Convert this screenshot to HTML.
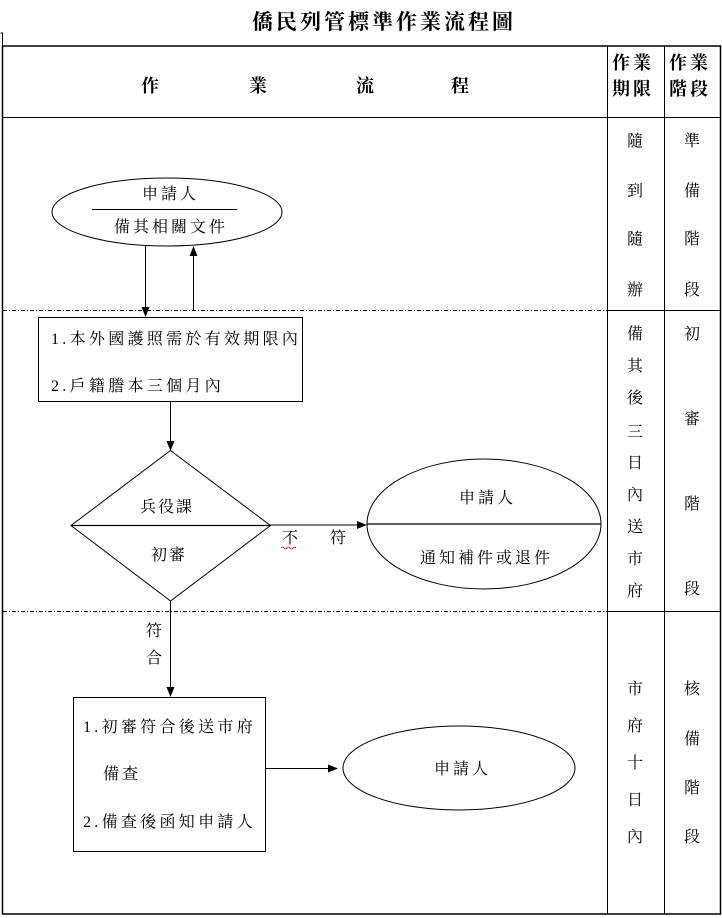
<!DOCTYPE html>
<html><head><meta charset="utf-8">
<style>
html,body{margin:0;padding:0;background:#fff;}
svg{display:block;}
text{font-family:"Liberation Serif","Noto Serif CJK SC","Noto Sans CJK TC",serif;fill:#000;}
</style></head>
<body>
<svg width="722" height="918" viewBox="0 0 722 918" xmlns="http://www.w3.org/2000/svg">
<defs>
<marker id="ah" markerWidth="10" markerHeight="8" refX="9" refY="4" orient="auto" markerUnits="userSpaceOnUse">
<path d="M0,0 L10,4 L0,8 Z" fill="#000"/></marker>
</defs>
<text x="252" y="29" font-size="21" font-weight="bold" letter-spacing="3">僑民列管標準作業流程圖</text>
<path d="M0.5,33 H2.5 V46" fill="none" stroke="#000" stroke-width="1"/>
<rect x="2.5" y="46" width="718" height="868" fill="none" stroke="#000" stroke-width="1.5"/>
<line x1="607.5" y1="46" x2="607.5" y2="914" stroke="#000" stroke-width="1"/>
<line x1="664.5" y1="46" x2="664.5" y2="914" stroke="#000" stroke-width="1"/>
<line x1="2" y1="117.5" x2="721" y2="117.5" stroke="#000" stroke-width="1"/>
<line x1="3" y1="310.5" x2="607" y2="310.5" stroke="#000" stroke-width="1" stroke-dasharray="4,2,1,2"/>
<line x1="607" y1="310.5" x2="721" y2="310.5" stroke="#000" stroke-width="1"/>
<line x1="3" y1="611.5" x2="607" y2="611.5" stroke="#000" stroke-width="1" stroke-dasharray="4,2,1,2"/>
<line x1="607" y1="611.5" x2="721" y2="611.5" stroke="#000" stroke-width="1"/>
<g font-size="18" font-weight="bold" text-anchor="middle">
<text x="150" y="92">作</text><text x="258" y="92">業</text><text x="365" y="92">流</text><text x="460" y="92">程</text>
</g>
<g font-size="18" font-weight="bold">
<text x="612" y="69" letter-spacing="3">作業</text><text x="612" y="95" letter-spacing="3">期限</text>
<text x="669" y="69" letter-spacing="3">作業</text><text x="669" y="95" letter-spacing="3">階段</text>
</g>
<g font-size="16" text-anchor="middle">
<text x="635" y="146">隨</text><text x="635" y="196">到</text><text x="635" y="244">隨</text><text x="635" y="295">辦</text>
<text x="692" y="146">準</text><text x="692" y="196">備</text><text x="692" y="244">階</text><text x="692" y="295">段</text>
<text x="635" y="339">備</text><text x="635" y="371">其</text><text x="635" y="403">後</text><text x="635" y="437">三</text><text x="635" y="468">日</text><text x="635" y="500">內</text><text x="635" y="532">送</text><text x="635" y="564">市</text><text x="635" y="596">府</text>
<text x="692" y="339">初</text><text x="692" y="424">審</text><text x="692" y="509">階</text><text x="692" y="594">段</text>
<text x="635" y="694">市</text><text x="635" y="731">府</text><text x="635" y="768">十</text><text x="635" y="805">日</text><text x="635" y="842">內</text>
<text x="692" y="694">核</text><text x="692" y="744">備</text><text x="692" y="793">階</text><text x="692" y="842">段</text>
</g>
<ellipse cx="167" cy="212" rx="115" ry="34" fill="none" stroke="#000" stroke-width="1"/>
<line x1="92" y1="209.5" x2="237" y2="209.5" stroke="#000" stroke-width="1"/>
<g font-size="16">
<text x="142" y="199" letter-spacing="3">申請人</text>
<text x="114" y="232" letter-spacing="3">備其相關文件</text>
</g>
<line x1="145.5" y1="246" x2="145.5" y2="316" stroke="#000" stroke-width="1" marker-end="url(#ah)"/>
<line x1="193.5" y1="310" x2="193.5" y2="247" stroke="#000" stroke-width="1" marker-end="url(#ah)"/>
<rect x="38.5" y="317.5" width="264" height="84" fill="none" stroke="#000" stroke-width="1"/>
<g font-size="16">
<text x="51" y="344" letter-spacing="3.3">1.本外國護照需於有效期限內</text>
<text x="51" y="391" letter-spacing="3.3">2.戶籍謄本三個月內</text>
</g>
<line x1="170.5" y1="402" x2="170.5" y2="450" stroke="#000" stroke-width="1" marker-end="url(#ah)"/>
<polygon points="170.5,450.5 270.5,525.5 170.5,601 71,525.5" fill="none" stroke="#000" stroke-width="1"/>
<line x1="71" y1="525.5" x2="270" y2="525.5" stroke="#000" stroke-width="1.2"/>
<g font-size="16">
<text x="140" y="512" letter-spacing="2">兵役課</text>
<text x="151" y="560" letter-spacing="2">初審</text>
</g>
<line x1="270" y1="525" x2="366" y2="525" stroke="#000" stroke-width="1" marker-end="url(#ah)"/>
<text x="290" y="543" font-size="16" text-anchor="middle">不</text>
<path d="M281,548 q1.5,-2 3,0 t3,0 t3,0 t3,0 t3,0" fill="none" stroke="#d00" stroke-width="0.8"/>
<text x="338" y="543" font-size="16" text-anchor="middle">符</text>
<ellipse cx="484" cy="524" rx="117" ry="65" fill="none" stroke="#000" stroke-width="1"/>
<line x1="367" y1="524" x2="601" y2="524" stroke="#000" stroke-width="1.2"/>
<g font-size="16">
<text x="459" y="503" letter-spacing="3">申請人</text>
<text x="420" y="563" letter-spacing="3">通知補件或退件</text>
</g>
<line x1="170.5" y1="601" x2="170.5" y2="696" stroke="#000" stroke-width="1" marker-end="url(#ah)"/>
<g font-size="16" text-anchor="middle">
<text x="154" y="636">符</text>
<text x="154" y="663">合</text>
</g>
<rect x="73.5" y="697.5" width="192" height="154" fill="none" stroke="#000" stroke-width="1"/>
<g font-size="16">
<text x="83" y="732" letter-spacing="3.3">1.初審符合後送市府</text>
<text x="103" y="779" letter-spacing="3">備查</text>
<text x="83" y="827" letter-spacing="3.3">2.備查後函知申請人</text>
</g>
<line x1="266" y1="768.5" x2="337" y2="768.5" stroke="#000" stroke-width="1" marker-end="url(#ah)"/>
<ellipse cx="459" cy="768" rx="116" ry="42" fill="none" stroke="#000" stroke-width="1"/>
<text x="434" y="774" font-size="16" letter-spacing="3">申請人</text>
</svg>
</body></html>
